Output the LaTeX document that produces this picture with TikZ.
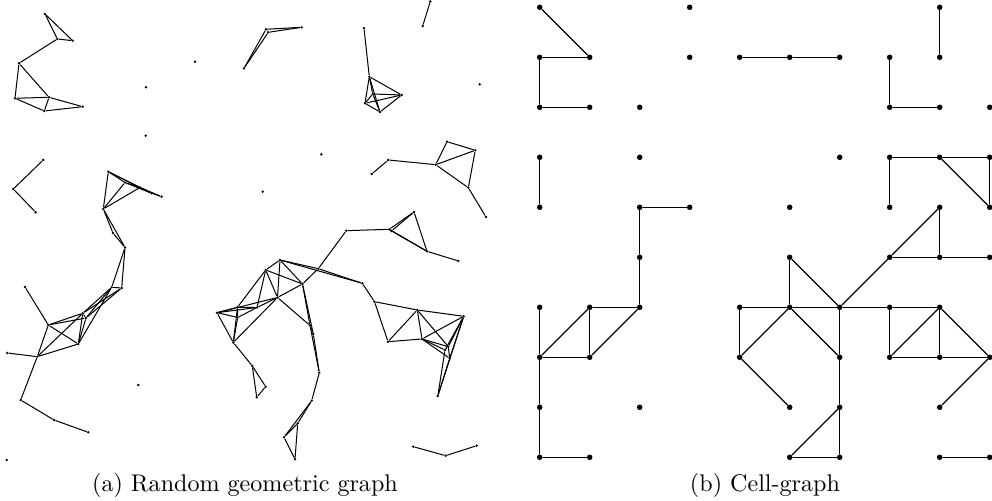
\documentclass[tikz,border=0pt]{standalone}
\begin{document}
\begin{tikzpicture}[x=0.415pt,y=-0.415pt,
  rdot/.style={circle,fill=black,inner sep=0pt,minimum size=1.1pt},
  cdot/.style={circle,fill=black,inner sep=0pt,minimum size=2.3pt},
  edge/.style={line width=0.42pt,line cap=round},
  caption/.style={anchor=base,font=\normalsize}]
\useasboundingbox (0,0) rectangle (992,501);
% ---------- (a) random geometric graph ----------
\foreach \n/\x/\y in {
 A1/45/14, A2/57.3/39, A3/72.7/40.7,
 B1/19/63.3, B2/15/98.3, B3/49/97.3, B4/44.3/111, B5/82.7/106.7,
 Z1/146/87.3, Z2/195/61.7, Z3/145.7/135.7,
 C1/43.3/160, C2/13.3/189, C3/35.7/212.3,
 D1/108.3/171.7, D2/103.3/209, D3/125/182.5, D4/140/187.5, D5/151.7/193.3, D6/161.7/196.7,
 D7/113/233, D8/125/247.5,
 E1/121.7/288, E2/111.7/287.3,
 F1/25/287, F2/48.3/325, F3/37.3/356.7, F4/7.3/353, F5/78.3/344, F6/82.7/313.3, F7/86/318,
 G1/20.7/400, G2/54/420, G3/88.3/432.3,
 Z4/138.3/385, Z5/6.7/460,
 H1/266/29.3, H4/268.3/32.3, H2/301.7/27.3, H3/244/68.3,
 I1/364/28.3, I2/369.3/76.7, I3/401.7/95, I4/365/103.3, I5/380/112, I6/372.7/94,
 J1/430.3/1.5, J2/422.7/26,
 Z6/479.7/84.3, Z7/321.3/154.3, Z8/262.7/191.7,
 K1/371.7/174, K2/388.3/160, K3/435.7/164.7, K4/447/141.7, K5/475.3/150.3, K6/468.3/187.7, K7/486/217,
 L1/346.3/230.7, L2/389.3/229.3, L6/391.5/231, L3/414/212, L4/427/251.3, L5/458.3/261,
 M1/280/260, M2/265.7/270, M3/302.5/284, M4/277.5/297.5, M5/318.3/268.7, M6/362.3/283.3,
 M7/374.5/301.7, M8/237.5/307.3, M9/217/312.7, M10/237.7/317.5, M11/257/307.5,
 M12/233.3/342.5, M13/252.3/366, M14/265.7/386.7, M15/256.7/397.3,
 N1/310/325.5, N2/313.3/334, N3/319.3/372.7, N4/311.7/400.7, N5/297.7/423.3, N6/284/437.3, N7/295/459.3,
 O1/388/341.7, O2/417.3/310, O3/422/339, O4/463.7/316.3, O5/448.3/346.7, O8/445/350, O6/449.7/358.3, O7/437.8/396,
 P1/413.3/446.7, P2/445.7/455.7, P3/476.7/445.7}
 \node[rdot] (\n) at (\x,\y) {};
\foreach \a/\b in {
 A1/A2, A1/A3, A2/A3, A2/B1, B1/B2, B1/B3, B2/B3, B2/B4, B3/B4, B3/B5, B4/B5,
 C1/C2, C2/C3,
 D1/D2, D1/D3, D1/D4, D1/D5, D3/D4, D4/D5, D5/D6, D4/D6, D3/D5, D2/D3, D2/D4, D2/D7, D7/D8, D2/D8,
 D8/E1, D8/E2, E1/E2,
 E1/F6, E1/F7, E2/F6, E2/F7, E2/F5,
 F1/F2, F2/F3, F4/F3, F2/F5, F2/F6, F2/F7, F3/F5, F3/F6, F5/F6, F5/F7, F6/F7,
 F3/G1, G1/G2, G2/G3,
 H1/H2, H4/H2, H1/H3, H4/H3, H1/H4,
 I1/I2, I2/I3, I2/I4, I2/I5, I4/I5, I5/I3, I4/I3, I6/I3, I6/I4, I6/I5, I2/I6,
 J1/J2,
 K1/K2, K2/K3, K3/K4, K3/K5, K4/K5, K3/K6, K5/K6, K6/K7,
 L1/L2, L2/L3, L6/L3, L2/L4, L6/L4, L3/L4, L4/L5, L1/M5, L2/L6,
 M1/M2, M1/M3, M1/M4, M2/M3, M2/M4, M3/M4, M2/M8, M2/M11, M3/M5, M1/M5, M5/M6, M1/M6, M6/M7,
 M4/M9, M4/M11, M4/M12, M4/N1, M3/N1, M3/N2,
 M8/M9, M8/M10, M8/M11, M9/M10, M9/M11, M10/M11, M9/M12, M10/M12, M8/M12,
 M12/M13, M13/M14, M13/M15, M14/M15,
 N1/N2, N1/N3, N2/N3, N3/N4, N4/N5, N4/N6, N5/N6, N5/N7, N6/N7,
 M7/O1, M7/O2, O2/O4, O1/O2, O1/O3, O2/O3, O2/O5, O3/O4, O3/O5, O3/O8, O3/O6,
 O4/O5, O4/O6, O4/O8, O4/O7, O5/O6, O5/O8, O6/O7, O8/O7,
 P1/P2, P2/P3}
 \draw[edge] (\a) -- (\b);
% ---------- (b) cell graph ----------
\foreach \i/\j in {
 0/0, 3/0, 8/0,
 0/1, 1/1, 3/1, 4/1, 5/1, 6/1, 7/1, 8/1,
 0/2, 1/2, 2/2, 7/2, 8/2, 9/2,
 0/3, 2/3, 6/3, 7/3, 8/3, 9/3,
 0/4, 2/4, 3/4, 5/4, 7/4, 8/4, 9/4,
 2/5, 5/5, 7/5, 8/5, 9/5,
 0/6, 1/6, 2/6, 4/6, 5/6, 6/6, 7/6, 8/6,
 0/7, 1/7, 4/7, 6/7, 7/7, 8/7, 9/7,
 0/8, 2/8, 5/8, 6/8, 8/8,
 0/9, 1/9, 5/9, 6/9, 8/9, 9/9}
 \node[cdot] (c\i\j) at ({539.7+50*\i},{7.3+50*\j}) {};
\foreach \a/\b in {
 00/11, 01/11, 01/02, 02/12, 41/51, 51/61, 80/81, 71/72, 72/82,
 03/04, 24/34, 24/25, 25/26,
 73/83, 83/93, 73/74, 83/94, 93/94,
 84/85, 84/75, 75/85, 85/95, 75/66,
 55/56, 55/66, 46/56, 56/66, 66/76, 76/86,
 46/47, 47/56, 56/67, 66/67, 67/68, 68/69, 47/58, 68/59, 59/69,
 76/77, 77/86, 86/87, 77/87, 87/97, 86/97, 97/88, 89/99,
 16/26, 06/07, 07/16, 16/17, 07/17, 17/26, 07/08, 08/09, 09/19}
 \draw[edge,line width=0.5pt] (c\a) -- (c\b);
% ---------- captions ----------
\node[caption] (capa) at (245,491.5) {(a) Random geometric graph};
\node[caption] (capb) at (765,491.5) {(b) Cell-graph};
\end{tikzpicture}
\end{document}
